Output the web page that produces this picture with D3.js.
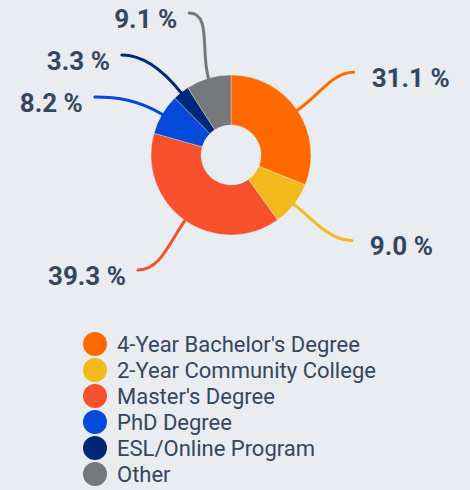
<!DOCTYPE html>
<html>
<head>
<meta charset="utf-8">
<script src="https://cdn.jsdelivr.net/npm/d3@7/dist/d3.min.js"></script>
<style>
  html, body { margin: 0; padding: 0; background: #e9ecf1; }
  svg { display: block; }
</style>
</head>
<body>
<svg id="chart" width="470" height="490"></svg>
<script>
const categories = ["4-Year Bachelor's Degree", "2-Year Community College", "Master's Degree", "PhD Degree", "ESL/Online Program", "Other"];
const values = [31.1, 9.0, 39.3, 8.2, 3.3, 9.1];
const colors = ["#ff6a00", "#f2bb1b", "#f7502d", "#034adb", "#00277a", "#77787c"];
const labelTexts = ["31.1 %", "9.0 %", "39.3 %", "8.2 %", "3.3 %", "9.1 %"];

const W = 470, H = 490;
const cx = 231, cy = 155;
const rOuter = 80, rInner = 30, rLabel = 148;
const textColor = "#33475f";

const svg = d3.select("#chart");
svg.append("rect").attr("width", W).attr("height", H).attr("fill", "#e9ecf1");

const pie = d3.pie().sort(null).value(d => d.value).startAngle(0).endAngle(2 * Math.PI);
const data = categories.map((c, i) => ({ cat: c, value: values[i], color: colors[i], label: labelTexts[i] }));
const arcs = pie(data);
const arc = d3.arc().innerRadius(rInner).outerRadius(rOuter);

const g = svg.append("g").attr("transform", `translate(${cx},${cy})`);

g.selectAll("path.slice").data(arcs).join("path")
  .attr("class", "slice")
  .attr("d", arc)
  .attr("fill", d => d.data.color)
  .attr("stroke", "#ffffff")
  .attr("stroke-opacity", 0.5)
  .attr("stroke-width", 0.6);

// label end positions: angle nudged away from the chart's horizontal axis, then vertical spreading
const items = arcs.map(a => {
  const m0 = (a.startAngle + a.endAngle) / 2;
  return { a, m0, side: Math.sin(m0) >= 0 ? 1 : -1 };
});
items.forEach(it => {
  // spread labels slightly away from the vertical axis (as the reference does)
  const m = it.m0;
  it.y = -rLabel * Math.cos(m);
});
// bottom-left label sits a little higher in the reference: pull labels below centre upward slightly
items.forEach(it => { if (it.y > 0) it.y -= 6; });
const minGap = 42;
[1, -1].forEach(side => {
  const s = items.filter(it => it.side === side).sort((p, q) => p.y - q.y);
  for (let i = 1; i < s.length; i++) {
    if (s[i].y < s[i - 1].y + minGap) s[i].y = s[i - 1].y + minGap;
  }
});
items.forEach(it => {
  const dy = Math.max(-rLabel, Math.min(rLabel, it.y));
  it.x = it.side * Math.sqrt(rLabel * rLabel - dy * dy);
});

items.forEach(it => {
  const m = it.m0;
  const ux = Math.sin(m), uy = -Math.cos(m);
  const p0 = [ux * rOuter, uy * rOuter];
  const p1 = [ux * (rOuter + 28), uy * (rOuter + 28)];
  const p3 = [it.x, it.y];
  const p2 = [it.x - it.side * 22, it.y];
  const path = d3.path();
  path.moveTo(p0[0], p0[1]);
  path.bezierCurveTo(p1[0], p1[1], p2[0], p2[1], p3[0], p3[1]);
  g.append("path")
    .attr("d", path.toString())
    .attr("fill", "none")
    .attr("stroke", it.a.data.color)
    .attr("stroke-width", 3)
    .attr("stroke-linecap", "round");
  g.append("text")
    .attr("x", it.x + it.side * (it.side > 0 ? 18 : 12))
    .attr("y", it.y + 15)
    .attr("text-anchor", it.side > 0 ? "start" : "end")
    .attr("font-family", "Roboto, sans-serif")
    .attr("font-weight", "bold")
    .attr("font-size", 26)
    .attr("fill", textColor)
    .text(it.a.data.label);
});

// legend
const legend = svg.append("g").attr("transform", "translate(95,344)");
const rowH = 26;
const rows = legend.selectAll("g.row").data(data).join("g")
  .attr("class", "row")
  .attr("transform", (d, i) => `translate(0,${i * rowH})`);
rows.append("circle").attr("r", 12).attr("fill", d => d.color);
rows.append("text")
  .attr("x", 22)
  .attr("y", 8)
  .attr("font-family", "Roboto, sans-serif")
  .attr("font-size", 22)
  .attr("fill", textColor)
  .text(d => d.cat);
</script>
</body>
</html>
